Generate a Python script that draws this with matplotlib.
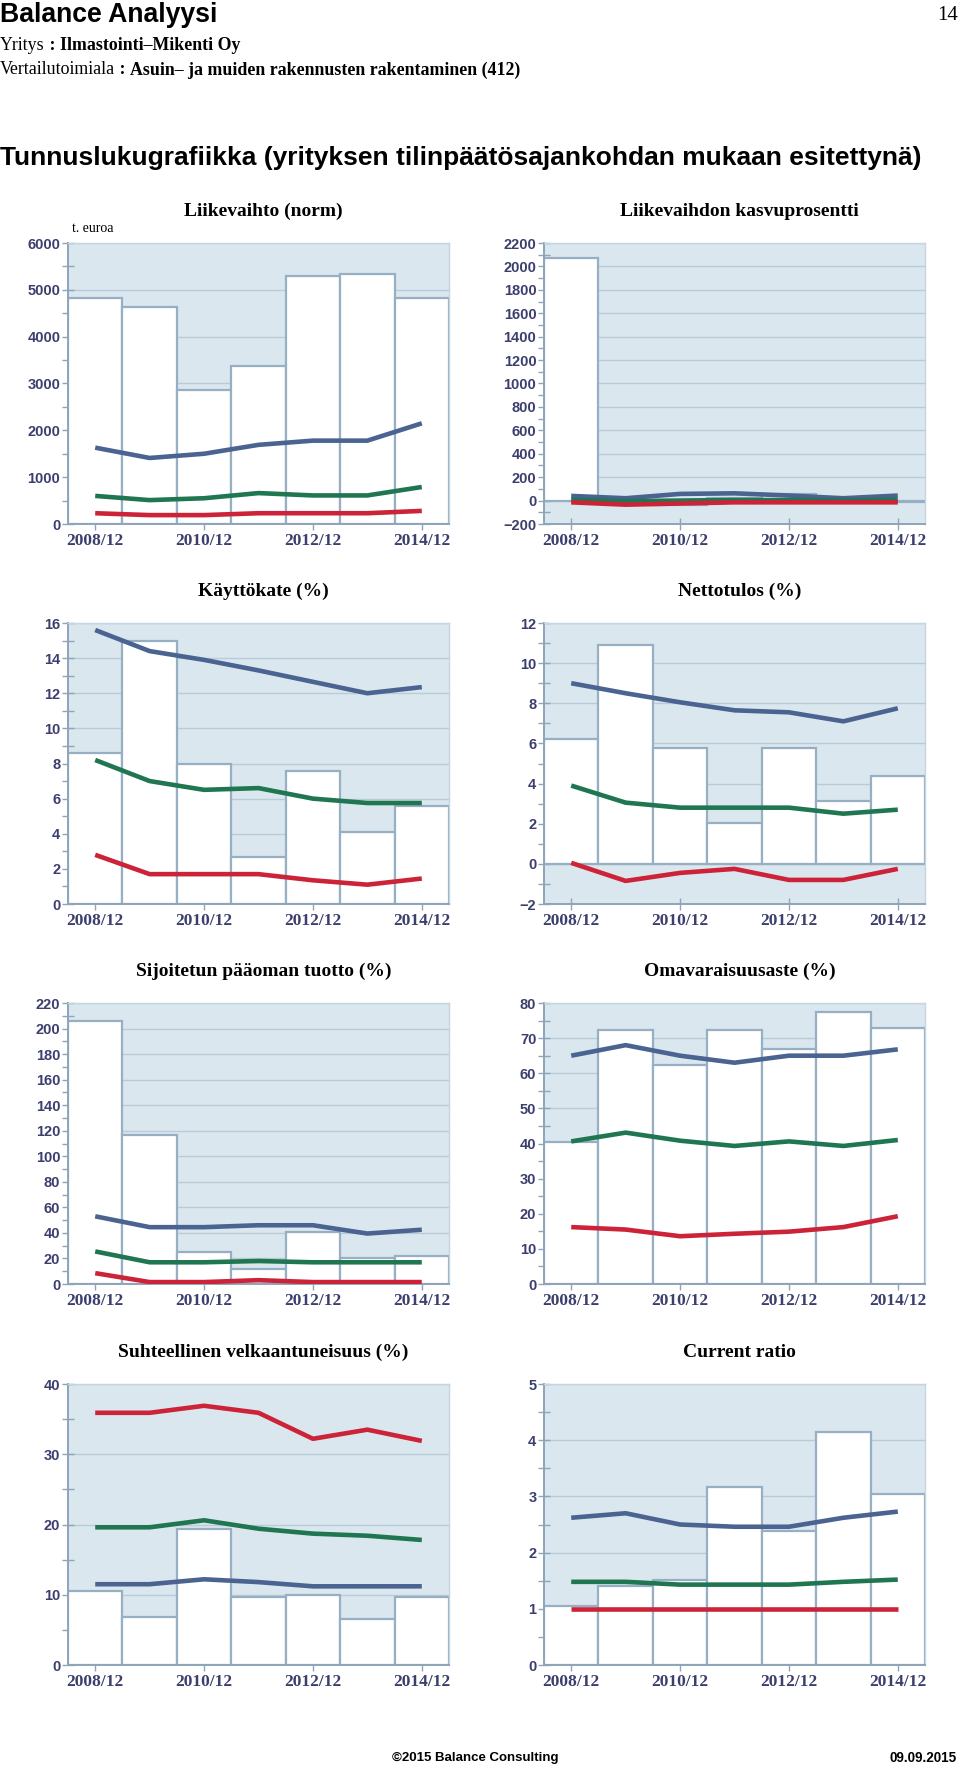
import matplotlib
matplotlib.use("Agg")
import numpy as np
import matplotlib.pyplot as plt
from matplotlib.ticker import MultipleLocator
from matplotlib import font_manager

# ---------------- data ----------------
periods = ["2008/12", "2009/12", "2010/12", "2011/12", "2012/12", "2013/12", "2014/12"]
xtick_labels = ["2008/12", "2010/12", "2012/12", "2014/12"]

# Liikevaihto (norm), t. euroa
lv_company = [4830, 4640, 2860, 3370, 5290, 5340, 4830]
lv_blue = [1630, 1410, 1500, 1690, 1780, 1780, 2150]
lv_green = [600, 510, 550, 660, 610, 610, 790]
lv_red = [230, 190, 190, 230, 230, 230, 280]

# Liikevaihdon kasvuprosentti
kp_company = [2070, -4, -38, 18, 57, 1, -10]
kp_blue = [40, 20, 57, 62, 43, 20, 43]
kp_green = [5, -5, 0, 5, 5, 0, 5]
kp_red = [-15, -35, -25, -15, -15, -15, -15]

# Käyttökate (%)
kk_company = [8.6, 15.0, 8.0, 2.7, 7.6, 4.1, 5.6]
kk_blue = [15.6, 14.4, 13.9, 13.3, 12.65, 12.0, 12.35]
kk_green = [8.2, 7.0, 6.5, 6.6, 6.0, 5.75, 5.75]
kk_red = [2.8, 1.7, 1.7, 1.7, 1.35, 1.1, 1.45]

# Nettotulos (%)
nt_company = [6.2, 10.9, 5.75, 2.05, 5.75, 3.15, 4.4]
nt_blue = [9.0, 8.5, 8.05, 7.65, 7.55, 7.1, 7.75]
nt_green = [3.9, 3.05, 2.8, 2.8, 2.8, 2.5, 2.7]
nt_red = [0.05, -0.85, -0.45, -0.25, -0.8, -0.8, -0.25]

# Sijoitetun pääoman tuotto (%)
sp_company = [206, 117, 25, 12, 41, 20, 22]
sp_blue = [53, 44.5, 44.5, 46, 46, 39.5, 42.5]
sp_green = [25.5, 17, 17, 18, 17, 17, 17]
sp_red = [8.5, 1.5, 1.5, 3, 1.5, 1.5, 1.5]

# Omavaraisuusaste (%)
oa_company = [40.5, 72.4, 62.3, 72.4, 66.9, 77.4, 73.0]
oa_blue = [65, 68, 65, 63, 65, 65, 66.8]
oa_green = [40.6, 43.1, 40.8, 39.3, 40.6, 39.3, 41.0]
oa_red = [16.2, 15.5, 13.6, 14.3, 14.9, 16.2, 19.3]

# Suhteellinen velkaantuneisuus (%)
sv_company = [10.6, 6.9, 19.4, 9.7, 9.9, 6.5, 9.7]
sv_blue = [11.5, 11.5, 12.2, 11.8, 11.2, 11.2, 11.2]
sv_green = [19.6, 19.6, 20.6, 19.4, 18.7, 18.4, 17.8]
sv_red = [35.9, 35.9, 36.9, 35.9, 32.2, 33.5, 31.9]

# Current ratio
cr_company = [1.05, 1.40, 1.52, 3.16, 2.38, 4.14, 3.04]
cr_blue = [2.62, 2.70, 2.50, 2.46, 2.46, 2.62, 2.73]
cr_green = [1.48, 1.48, 1.43, 1.43, 1.43, 1.48, 1.52]
cr_red = [1.0, 1.0, 1.0, 1.0, 1.0, 1.0, 1.0]

# ---------------- style ----------------
W, H = 960, 1767
BG = "#dbe7ef"
GRID = "#b7cbd8"
BAR_EDGE = "#97afc3"
TICK = "#8ea4b8"
LABEL = "#3c3e6e"
BLUE = "#4a6390"
GREEN = "#1f7650"
RED = "#cc2338"


def has_font(name):
    try:
        font_manager.findfont(name, fallback_to_default=False)
        return True
    except Exception:
        return False


SANS = "Liberation Sans" if has_font("Liberation Sans") else "DejaVu Sans"
SANS_N = "Liberation Sans Narrow" if has_font("Liberation Sans Narrow") else SANS
SERIF = "Liberation Serif" if has_font("Liberation Serif") else "DejaVu Serif"

fig = plt.figure(figsize=(W / 100, H / 100), dpi=100)
fig.patch.set_facecolor("white")
renderer = fig.canvas.get_renderer()


def fx(x):
    return x / W


def fy(y):
    return 1 - y / H


def fit_text(x, y, s, target_w, size, **kw):
    t = fig.text(fx(x), fy(y), s, fontsize=size, **kw)
    bb = t.get_window_extent(renderer)
    if bb.width > 0:
        t.set_fontsize(size * target_w / bb.width)
    return t


def parts_text(x, y, parts, size, total_w):
    objs = []
    cur = x
    for s, wgt in parts:
        t = fig.text(fx(cur), fy(y), s, fontsize=size, family=SERIF, weight=wgt,
                     va="center", ha="left")
        bb = t.get_window_extent(renderer)
        cur += bb.width
        objs.append(t)
    scale = total_w / (cur - x)
    cur = x
    for t in objs:
        t.set_fontsize(size * scale)
        t.set_x(fx(cur))
        cur += t.get_window_extent(renderer).width
    return objs


# ---------------- header ----------------
fit_text(0, 15, "Balance Analyysi", 217, 20, family=SANS_N, weight="bold",
         va="center", ha="left")
fig.text(fx(958), fy(15), "14", fontsize=15, family=SERIF, va="center", ha="right")
parts_text(0, 45, [("Yritys", "normal"), (" : ", "bold"), ("Ilmastointi\u2013Mikenti Oy", "bold")],
           12, 240)
parts_text(0, 70, [("Vertailutoimiala", "normal"), (" : ", "bold"),
                   ("Asuin\u2013 ja muiden rakennusten rakentaminen (412)", "bold")], 12, 517)
fit_text(0, 158, "Tunnuslukugrafiikka (yrityksen tilinpäätösajankohdan mukaan esitettynä)",
         918, 20, family=SANS_N, weight="bold", va="center", ha="left")

# footer
fit_text(392, 1758, "\u00a92015 Balance Consulting", 166, 10, family=SANS_N, weight="bold",
         va="center", ha="left")
fit_text(890, 1758, "09.09.2015", 68, 10, family=SANS_N, weight="bold",
         va="center", ha="left")


def fmt(v):
    if abs(v - round(v)) < 1e-9:
        s = str(int(round(v)))
    else:
        s = ("%g" % v)
    return s.replace("-", "\u2212")


def chart(left, top, title, company, blue, green, red, ylim, major, minor):
    right = left + 381
    bottom = top + 281
    ax = fig.add_axes([fx(left), fy(bottom), (right - left) / W, (bottom - top) / H])
    ax.set_facecolor(BG)
    ax.set_axisbelow(True)
    x = np.arange(len(periods))
    ax.bar(x, company, width=1.0, color="white", edgecolor=BAR_EDGE, linewidth=1.6, zorder=2)
    for series, col in ((blue, BLUE), (green, GREEN), (red, RED)):
        ax.plot(x, series, color=col, lw=3.3, zorder=4, solid_capstyle="butt",
                solid_joinstyle="round")
    ax.set_xlim(-0.5, 6.5)
    ax.set_ylim(*ylim)
    ticks = np.arange(ylim[0], ylim[1] + major * 0.01, major)
    ax.set_yticks(ticks, labels=[fmt(t) for t in ticks], family=SANS, weight="bold",
                  fontsize=10.5, color=LABEL)
    ax.yaxis.set_minor_locator(MultipleLocator(minor))
    ax.set_xticks([0, 2, 4, 6], labels=xtick_labels, family=SERIF, weight="bold",
                  fontsize=12.5, color=LABEL)
    ax.yaxis.grid(True, which="major", color=GRID, lw=1.0)
    ax.tick_params(axis="y", which="both", direction="inout", length=9, width=1.0,
                   color=TICK, pad=1)
    ax.tick_params(axis="x", which="major", direction="inout", length=9, width=1.0,
                   color=TICK, pad=2)
    for sp in ("left", "bottom"):
        ax.spines[sp].set_color(TICK)
        ax.spines[sp].set_linewidth(1.4)
    for sp in ("top", "right"):
        ax.spines[sp].set_color("#c6d6e1")
        ax.spines[sp].set_linewidth(1.0)
    fig.text(fx((left + right) / 2 + 5), fy(top - 32), title, fontsize=14, family=SERIF,
             weight="bold", ha="center", va="center")
    return ax


LX, RX = 68, 544
rows = [243, 623, 1003, 1384]

chart(LX, rows[0], "Liikevaihto (norm)", lv_company, lv_blue, lv_green, lv_red,
      (0, 6000), 1000, 500)
fig.text(fx(72), fy(228), "t. euroa", fontsize=10, family=SERIF, ha="left", va="center")
chart(RX, rows[0], "Liikevaihdon kasvuprosentti", kp_company, kp_blue, kp_green, kp_red,
      (-200, 2200), 200, 100)
chart(LX, rows[1], "Käyttökate (%)", kk_company, kk_blue, kk_green, kk_red,
      (0, 16), 2, 1)
chart(RX, rows[1], "Nettotulos (%)", nt_company, nt_blue, nt_green, nt_red,
      (-2, 12), 2, 1)
chart(LX, rows[2], "Sijoitetun pääoman tuotto (%)", sp_company, sp_blue, sp_green, sp_red,
      (0, 220), 20, 10)
chart(RX, rows[2], "Omavaraisuusaste (%)", oa_company, oa_blue, oa_green, oa_red,
      (0, 80), 10, 5)
chart(LX, rows[3], "Suhteellinen velkaantuneisuus (%)", sv_company, sv_blue, sv_green,
      sv_red, (0, 40), 10, 5)
chart(RX, rows[3], "Current ratio", cr_company, cr_blue, cr_green, cr_red,
      (0, 5), 1, 0.5)

fig.savefig("out.png", dpi=100, facecolor="white")
